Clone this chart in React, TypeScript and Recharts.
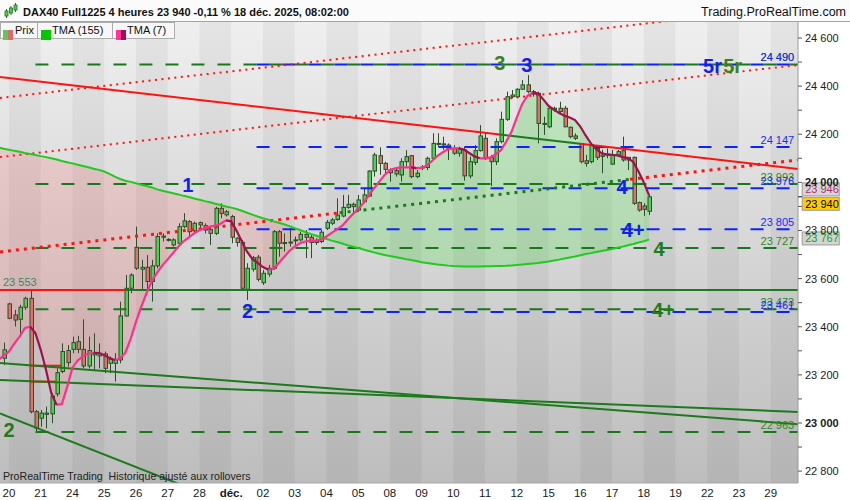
// DAX40 4h chart — ProRealTime style, rebuilt with Recharts
import React from 'react';
import {
  ComposedChart,
  Bar,
  Line,
  Area,
  XAxis,
  YAxis,
  ReferenceLine,
  ReferenceArea,
  ReferenceDot,
} from 'recharts';

// =============================================================================
// SECTION 1: DATA
// =============================================================================

const DAY_LABELS = [
  '20', '21', '24', '25', '26', '27', '28', 'déc.', '02', '03', '04', '05', '08',
  '09', '10', '11', '12', '15', '16', '17', '18', '19', '22', '23', '29',
];
const BARS_PER_DAY = 6;

const PRICE_TICKS = [
  22800, 22900, 23000, 23100, 23200, 23300, 23400, 23500, 23600, 23700,
  23800, 23900, 24000, 24100, 24200, 24300, 24400, 24500, 24600,
];

// candles, first one at slot -1 (slot 0 = first 4h bar of the 20th)
const CANDLE_FIRST_SLOT = -1;
const OPEN = [
  23269, 23495, 23449, 23431, 23481, 23518, 23047, 23020, 23036, 23038, 23121, 23214, 23301,
  23306, 23338, 23306, 23237, 23283, 23279, 23287, 23248, 23248, 23262, 23445, 23560,
  23730, 23639, 23647, 23588, 23653, 23772, 23761, 23740, 23747, 23816, 23837, 23799,
  23833, 23820, 23805, 23788, 23892, 23865, 23858, 23768, 23751, 23556, 23639, 23689,
  23583, 23619, 23643, 23795, 23750, 23750, 23758, 23761, 23784, 23772, 23750, 23754,
  23809, 23830, 23846, 23860, 23896, 23909, 23885, 23920, 23943, 24047, 24111, 24079,
  24052, 24049, 24031, 24086, 24111, 24024, 24060, 24062, 24100, 24162, 24160, 24155,
  24141, 24121, 24135, 24027, 24083, 24132, 24183, 24103, 24086, 24169, 24262, 24356,
  24356, 24387, 24405, 24377, 24370, 24245, 24231, 24301, 24308, 24308, 24229, 24193,
  24160, 24090, 24086, 24141, 24108, 24114, 24076, 24114, 24132, 24093, 24104, 23916,
  23902, 23880,
];
const HIGH = [
  23334, 23500, 23470, 23491, 23525, 23553, 23054, 23054, 23068, 23124, 23227, 23331, 23324,
  23359, 23362, 23431, 23359, 23373, 23331, 23297, 23276, 23290, 23504, 23615, 23622,
  23816, 23678, 23698, 23678, 23788, 23788, 23768, 23768, 23830, 23872, 23844, 23837,
  23837, 23830, 23816, 23899, 23913, 23885, 23865, 23772, 23761, 23664, 23694, 23698,
  23636, 23657, 23802, 23802, 23788, 23802, 23775, 23795, 23802, 23781, 23768, 23802,
  23844, 23852, 23934, 23948, 23948, 23916, 23948, 23976, 24051, 24123, 24146, 24086,
  24058, 24058, 24100, 24134, 24114, 24051, 24072, 24107, 24204, 24204, 24190, 24162,
  24155, 24148, 24148, 24107, 24155, 24238, 24204, 24114, 24183, 24294, 24377, 24384,
  24391, 24425, 24446, 24384, 24377, 24273, 24315, 24315, 24335, 24318, 24232, 24204,
  24162, 24114, 24162, 24148, 24135, 24141, 24135, 24135, 24190, 24104, 24107, 23920,
  23913, 23948,
];
const LOW = [
  23241, 23431, 23401, 23373, 23470, 23040, 22964, 22985, 22978, 22999, 23110, 23207, 23234,
  23290, 23290, 23227, 23227, 23220, 23227, 23207, 23207, 23172, 23248, 23442, 23539,
  23636, 23553, 23553, 23504, 23643, 23754, 23754, 23733, 23733, 23809, 23768, 23788,
  23809, 23788, 23740, 23781, 23851, 23858, 23747, 23733, 23553, 23511, 23629, 23588,
  23574, 23608, 23636, 23691, 23712, 23733, 23740, 23754, 23685, 23685, 23740, 23747,
  23802, 23823, 23840, 23855, 23890, 23871, 23878, 23913, 23940, 24024, 24031, 24031,
  24003, 24024, 24003, 24065, 24017, 24017, 24051, 24051, 24093, 24148, 24135, 24093,
  24114, 24107, 24007, 24017, 24072, 24128, 24093, 23985, 24072, 24162, 24255, 24349,
  24353, 24384, 24370, 24356, 24162, 24197, 24225, 24294, 24287, 24229, 24183, 24176,
  24079, 24065, 24079, 24093, 24038, 24100, 24072, 24107, 24086, 24051, 23906, 23878,
  23860, 23864,
];
const CLOSE = [
  23304, 23435, 23428, 23481, 23518, 23047, 22978, 23041, 23041, 23112, 23209, 23297, 23251,
  23334, 23306, 23237, 23301, 23290, 23290, 23227, 23265, 23262, 23445, 23560, 23615,
  23643, 23647, 23588, 23653, 23775, 23777, 23763, 23761, 23816, 23840, 23795, 23830,
  23823, 23802, 23788, 23892, 23871, 23878, 23772, 23750, 23560, 23643, 23687, 23597,
  23622, 23643, 23795, 23747, 23747, 23752, 23761, 23784, 23772, 23750, 23757, 23793,
  23834, 23844, 23864, 23896, 23909, 23899, 23927, 23948, 24047, 24114, 24079, 24054,
  24040, 24035, 24086, 24107, 24024, 24038, 24064, 24100, 24162, 24160, 24155, 24141,
  24121, 24141, 24027, 24086, 24132, 24193, 24100, 24086, 24169, 24262, 24356, 24363,
  24387, 24405, 24377, 24367, 24245, 24243, 24308, 24308, 24294, 24231, 24190, 24183,
  24086, 24079, 24155, 24104, 24114, 24117, 24114, 24128, 24093, 24104, 23913, 23885,
  23888, 23940,
];

// moving averages, first value at slot -2 (just left of the window)
const TMA_FIRST_SLOT = -2;
const TMA7 = [
  23262, 23280, 23297, 23330, 23359, 23394, 23401, 23373, 23304, 23220, 23124, 23075, 23079,
  23150, 23230, 23260, 23278, 23288, 23292, 23291, 23282, 23270, 23262, 23268, 23292,
  23350, 23420, 23483, 23540, 23590, 23625, 23655, 23680, 23706, 23733, 23755, 23771,
  23788, 23801, 23809, 23816, 23820, 23828, 23842, 23838, 23800, 23755, 23712, 23682,
  23665, 23648, 23638, 23640, 23665, 23690, 23715, 23733, 23747, 23754, 23758, 23758,
  23762, 23775, 23790, 23805, 23820, 23845, 23868, 23888, 23915, 23945, 23975, 24003,
  24031, 24051, 24058, 24062, 24062, 24062, 24059, 24060, 24070, 24090, 24110, 24125,
  24137, 24141, 24141, 24136, 24122, 24108, 24100, 24100, 24104, 24117, 24134, 24170,
  24210, 24270, 24325, 24360, 24372, 24370, 24345, 24318, 24302, 24288, 24277, 24270,
  24259, 24232, 24195, 24162, 24138, 24122, 24116, 24114, 24112, 24105, 24101, 24085,
  24045, 24000, 23946,
];
const TMA155 = [
  24145, 24140, 24136, 24131, 24127, 24122, 24118, 24114, 24109, 24105, 24100, 24095, 24089,
  24084, 24079, 24073, 24068, 24063, 24057, 24052, 24045, 24035, 24024, 24014, 24007,
  24002, 23996, 23990, 23985, 23979, 23971, 23965, 23960, 23955, 23950, 23944, 23939,
  23933, 23928, 23922, 23917, 23911, 23906, 23900, 23895, 23889, 23882, 23874, 23866,
  23858, 23851, 23845, 23838, 23832, 23826, 23818, 23810, 23802, 23794, 23786, 23779,
  23771, 23765, 23758, 23752, 23746, 23739, 23733, 23727, 23721, 23715, 23709, 23703,
  23698, 23694, 23690, 23686, 23681, 23677, 23673, 23668, 23665, 23662, 23659, 23657,
  23654, 23652, 23651, 23650, 23650, 23650, 23650, 23651, 23651, 23652, 23652, 23653,
  23655, 23657, 23659, 23661, 23663, 23665, 23668, 23671, 23675, 23679, 23684, 23688,
  23692, 23697, 23702, 23706, 23711, 23715, 23719, 23723, 23728, 23733, 23739, 23744,
  23750, 23755, 23762,
];

// horizontal levels
const GREEN_LEVELS = [24490, 23993, 23727, 23473, 22963];
const GREEN_LEVELS_FROM = 5;
const BLUE_LEVELS = [24490, 24147, 23976, 23805, 23461];
const BLUE_LEVELS_FROM = 45;
const SUPPORT = 23553;
const SUPPORT_TURN = 21.9;
const SHORT_RED_LEVELS = [
  { from: 4, to: 10, price: 23238 },
  { from: 4, to: 8.7, price: 23172 },
];

// trend lines: [slot, price] at both ends of the window
type Trend = { a: [number, number]; b: [number, number] };
const RESISTANCE: Trend = { a: [-1.7, 24438], b: [149.15, 24056] };
const RESISTANCE_CUTS = [92.8, 108];
const CHANNEL_TOP: Trend = { a: [-1.7, 24351], b: [149.15, 24733] };
const CHANNEL_MID: Trend = { a: [-1.7, 24105], b: [149.15, 24488] };
const CHANNEL_LOW: Trend = { a: [-1.7, 23711], b: [149.15, 24093] };
const CHANNEL_LOW_CUTS = [62.5, 117.4];
const FAN_LINES: Trend[] = [
  { a: [-1.7, 23249], b: [149.15, 22995] },
  { a: [-1.7, 23179], b: [149.15, 23046] },
  { a: [-1.7, 23040], b: [32.3, 22745] },
];

// wave counts
const MARKS = [
  { text: '1', slot: 33.8, price: 23989, tone: 'blue' },
  { text: '2', slot: 45.1, price: 23465, tone: 'blue' },
  { text: '2', slot: 0, price: 22969, tone: 'green' },
  { text: '3', slot: 92.8, price: 24496, tone: 'olive' },
  { text: '3', slot: 97.9, price: 24486, tone: 'blue' },
  { text: '4', slot: 115.9, price: 23979, tone: 'blue' },
  { text: '4+', slot: 118, price: 23804, tone: 'blue' },
  { text: '4', slot: 122.9, price: 23723, tone: 'green' },
  { text: '4+', slot: 123.7, price: 23470, tone: 'green' },
  { text: '5r', slot: 133, price: 24484, tone: 'blue' },
  { text: '5r', slot: 136.8, price: 24484, tone: 'olive' },
];

// =============================================================================
// SECTION 2: LAYOUT & COLOURS
// =============================================================================

const FONT = '"Liberation Sans", Arial, Helvetica, sans-serif';
const X_DOMAIN: [number, number] = [-1.7, 149.15];
const Y_DOMAIN: [number, number] = [22750.6, 24666.5];
const TAG_SLOT = 149;

const COL = {
  wick: '#2b4f2b',
  bull: '#52d052',
  bear: '#e1716b',
  tmaSlow: '#1fcb1f',
  tmaUp: '#ff2e8e',
  tmaDown: '#a0104f',
  red: '#ff1212',
  green: '#1c7a1c',
  dashGreen: '#16791a',
  blue: '#0b24ff',
  text: '#1a1a1a',
};
const TONE: Record<string, string> = { blue: '#1020f0', green: '#1d7d1d', olive: '#3a801c' };

const fmt = (v: number) => `${Math.floor(v / 1000)} ${String(v % 1000).padStart(3, '0')}`;

const priceOn = (t: Trend, slot: number) =>
  t.a[1] + ((t.b[1] - t.a[1]) * (slot - t.a[0])) / (t.b[0] - t.a[0]);

function trendPieces(t: Trend, cuts: number[], colors: string[]) {
  const xs = [t.a[0], ...cuts, t.b[0]];
  return xs.slice(0, -1).map((x0, i) => ({
    x0,
    x1: xs[i + 1],
    y0: priceOn(t, x0),
    y1: priceOn(t, xs[i + 1]),
    color: colors[i],
  }));
}

const rows = TMA7.map((t7, i) => {
  const slot = TMA_FIRST_SLOT + i;
  const ci = slot - CANDLE_FIRST_SLOT;
  const has = ci >= 0 && ci < OPEN.length;
  const t155 = TMA155[i];
  const prev = i > 0 ? TMA7[i - 1] : null;
  const next = i < TMA7.length - 1 ? TMA7[i + 1] : null;
  const outUp = next == null ? (prev == null ? true : t7 >= prev) : next >= t7;
  const inUp = prev == null ? outUp : t7 >= prev;
  return {
    slot,
    open: has ? OPEN[ci] : null,
    high: has ? HIGH[ci] : null,
    low: has ? LOW[ci] : null,
    close: has ? CLOSE[ci] : null,
    range: has ? [LOW[ci], HIGH[ci]] : null,
    tma155: t155,
    tmaUp: inUp || outUp ? t7 : null,
    tmaDown: !inUp || !outUp ? t7 : null,
    redBand: t7 < t155 ? [t7, t155] : [t155, t155],
    greenBand: t7 > t155 ? [t155, t7] : [t155, t155],
  };
});

// =============================================================================
// SECTION 3: SHAPES & TICKS
// =============================================================================

function Candle(props: any) {
  const { x, y, width, height, payload } = props;
  if (!payload || payload.open == null || !Number.isFinite(y) || !Number.isFinite(height)) return null;
  const top = Math.min(y, y + height);
  const h = Math.abs(height);
  const { open, close, high, low } = payload;
  const k = high > low ? h / (high - low) : 0;
  const yOf = (p: number) => top + (high - p) * k;
  const cx = Math.round(x + width / 2) + 0.5;
  const bTop = yOf(Math.max(open, close));
  const bBot = yOf(Math.min(open, close));
  return (
    <g>
      <line x1={cx} x2={cx} y1={top} y2={top + h} stroke={COL.wick} strokeWidth={1} />
      <rect
        x={cx - 1.5}
        y={bTop}
        width={3.5}
        height={Math.max(bBot - bTop, 1)}
        fill={close >= open ? COL.bull : COL.bear}
        stroke={COL.wick}
        strokeWidth={1}
      />
    </g>
  );
}

const dayTick = (p: any) => {
  const label = DAY_LABELS[Math.round(p.payload.value / BARS_PER_DAY)] ?? '';
  return (
    <text
      x={p.x}
      y={p.y + 12}
      textAnchor="middle"
      fontSize={11.5}
      fontFamily={FONT}
      fontWeight={label === 'déc.' ? 'bold' : 'normal'}
      fill={COL.text}
    >
      {label}
    </text>
  );
};

const priceTick = (p: any) => {
  const v = p.payload.value as number;
  if (v % 200 !== 0) return <g />;
  return (
    <text
      x={p.x}
      y={p.y + 4}
      textAnchor="start"
      fontSize={11}
      fontFamily={FONT}
      fontWeight={v % 1000 === 0 ? 'bold' : 'normal'}
      fill={COL.text}
    >
      {fmt(v)}
    </text>
  );
};

const levelTag = (text: string, color: string) => (p: any) => (
  <text
    x={p.viewBox.x - 3}
    y={p.viewBox.y - 3}
    textAnchor="end"
    fontSize={11}
    fontFamily={FONT}
    fill={color}
  >
    {text}
  </text>
);

const markTag = (text: string, color: string) => (p: any) => (
  <text
    x={p.viewBox.x}
    y={p.viewBox.y + 7}
    textAnchor="middle"
    fontSize={20}
    fontWeight="bold"
    fontFamily={FONT}
    fill={color}
  >
    {text}
  </text>
);

const priceBox = (text: string, color: string, bg: string, dy: number, tick: boolean) => (p: any) => {
  const { x, y } = p.viewBox;
  const cy = y + dy;
  return (
    <g>
      {tick && <line x1={x + 1} x2={x + 5} y1={y} y2={y} stroke="#000" strokeWidth={1} />}
      <rect x={x + 5} y={cy - 6.5} width={37} height={13} fill={bg} stroke="#9a9a9a" strokeWidth={1} />
      <text x={x + 8} y={cy + 4} fontSize={11} fontFamily={FONT} fill={color}>
        {text}
      </text>
    </g>
  );
};

// =============================================================================
// SECTION 4: CHART
// =============================================================================

function PriceChart() {
  const stripes = DAY_LABELS.map((_, i) => i).filter((i) => i % 2 === 0);
  const resistance = trendPieces(RESISTANCE, RESISTANCE_CUTS, [COL.red, COL.green, COL.red]);
  const channelLow = trendPieces(CHANNEL_LOW, CHANNEL_LOW_CUTS, [COL.red, COL.green, COL.red]);

  return (
    <ComposedChart
      width={850}
      height={500}
      data={rows}
      margin={{ top: 22, right: 0, bottom: 0, left: 0 }}
    >
      <defs>
        <linearGradient id="plotBg" x1="0" y1="0" x2="0" y2="1">
          <stop offset="0%" stopColor="#efefef" />
          <stop offset="100%" stopColor="#bdbdbd" />
        </linearGradient>
      </defs>

      <XAxis
        dataKey="slot"
        type="number"
        domain={X_DOMAIN}
        allowDataOverflow
        ticks={DAY_LABELS.map((_, i) => i * BARS_PER_DAY)}
        interval={0}
        tick={dayTick}
        tickLine={false}
        tickSize={0}
        axisLine={{ stroke: '#a8a8a8' }}
        height={17}
      />
      <YAxis
        orientation="right"
        type="number"
        domain={Y_DOMAIN}
        allowDataOverflow
        ticks={PRICE_TICKS}
        interval={0}
        tick={priceTick}
        tickSize={4}
        tickMargin={3}
        tickLine={{ stroke: '#555' }}
        axisLine={{ stroke: '#9c9c9c' }}
        width={52}
      />

      <ReferenceArea
        x1={X_DOMAIN[0]}
        x2={X_DOMAIN[1]}
        y1={Y_DOMAIN[0]}
        y2={Y_DOMAIN[1]}
        fill="url(#plotBg)"
        fillOpacity={1}
        stroke="none"
        ifOverflow="hidden"
      />
      {stripes.map((i) => (
        <ReferenceArea
          key={`st-${i}`}
          x1={i * BARS_PER_DAY}
          x2={(i + 1) * BARS_PER_DAY}
          y1={Y_DOMAIN[0]}
          y2={Y_DOMAIN[1]}
          fill="#000"
          fillOpacity={0.045}
          stroke="none"
          ifOverflow="hidden"
        />
      ))}

      <Area
        dataKey="redBand"
        type="linear"
        stroke="none"
        fill="#ff6a6a"
        fillOpacity={0.2}
        dot={false}
        activeDot={false}
        isAnimationActive={false}
      />
      <Area
        dataKey="greenBand"
        type="linear"
        stroke="none"
        fill="#3ee03e"
        fillOpacity={0.24}
        dot={false}
        activeDot={false}
        isAnimationActive={false}
      />

      {GREEN_LEVELS.map((v) => (
        <ReferenceLine
          key={`gl-${v}`}
          segment={[{ x: GREEN_LEVELS_FROM, y: v }, { x: X_DOMAIN[1], y: v }]}
          stroke={COL.dashGreen}
          strokeWidth={2}
          strokeDasharray="13 13"
          ifOverflow="hidden"
        />
      ))}
      {BLUE_LEVELS.map((v) => (
        <ReferenceLine
          key={`bl-${v}`}
          segment={[{ x: BLUE_LEVELS_FROM, y: v }, { x: X_DOMAIN[1], y: v }]}
          stroke={COL.blue}
          strokeWidth={2}
          strokeDasharray="13 13"
          strokeDashoffset={16.5}
          ifOverflow="hidden"
        />
      ))}

      <ReferenceLine
        segment={[{ x: X_DOMAIN[0], y: SUPPORT }, { x: SUPPORT_TURN, y: SUPPORT }]}
        stroke={COL.red}
        strokeWidth={2}
        ifOverflow="hidden"
      />
      <ReferenceLine
        segment={[{ x: SUPPORT_TURN, y: SUPPORT }, { x: X_DOMAIN[1], y: SUPPORT }]}
        stroke={COL.green}
        strokeWidth={2}
        ifOverflow="hidden"
      />
      {SHORT_RED_LEVELS.map((s, i) => (
        <ReferenceLine
          key={`sr-${i}`}
          segment={[{ x: s.from, y: s.price }, { x: s.to, y: s.price }]}
          stroke={COL.red}
          strokeWidth={2}
          ifOverflow="hidden"
        />
      ))}

      {FAN_LINES.map((t, i) => (
        <ReferenceLine
          key={`fan-${i}`}
          segment={[{ x: t.a[0], y: t.a[1] }, { x: t.b[0], y: t.b[1] }]}
          stroke={COL.green}
          strokeWidth={2}
          ifOverflow="hidden"
        />
      ))}
      {[CHANNEL_TOP, CHANNEL_MID].map((t, i) => (
        <ReferenceLine
          key={`ch-${i}`}
          segment={[{ x: t.a[0], y: t.a[1] }, { x: t.b[0], y: t.b[1] }]}
          stroke={COL.red}
          strokeWidth={2}
          strokeDasharray="2 4.5"
          ifOverflow="hidden"
        />
      ))}
      {channelLow.map((s, i) => (
        <ReferenceLine
          key={`cl-${i}`}
          segment={[{ x: s.x0, y: s.y0 }, { x: s.x1, y: s.y1 }]}
          stroke={s.color}
          strokeWidth={3}
          strokeDasharray="3 5"
          ifOverflow="hidden"
        />
      ))}
      {resistance.map((s, i) => (
        <ReferenceLine
          key={`rs-${i}`}
          segment={[{ x: s.x0, y: s.y0 }, { x: s.x1, y: s.y1 }]}
          stroke={s.color}
          strokeWidth={2}
          ifOverflow="hidden"
        />
      ))}

      <Line
        dataKey="tma155"
        type="linear"
        stroke={COL.tmaSlow}
        strokeWidth={2}
        dot={false}
        activeDot={false}
        isAnimationActive={false}
      />

      <Bar dataKey="range" barSize={4} shape={Candle} isAnimationActive={false} />

      <Line
        dataKey="tmaUp"
        type="linear"
        stroke={COL.tmaUp}
        strokeWidth={2.2}
        dot={false}
        activeDot={false}
        connectNulls={false}
        isAnimationActive={false}
      />
      <Line
        dataKey="tmaDown"
        type="linear"
        stroke={COL.tmaDown}
        strokeWidth={2.2}
        dot={false}
        activeDot={false}
        connectNulls={false}
        isAnimationActive={false}
      />

      {MARKS.map((m, i) => (
        <ReferenceDot
          key={`mk-${i}`}
          x={m.slot}
          y={m.price}
          r={0}
          fill="none"
          stroke="none"
          ifOverflow="visible"
          label={markTag(m.text, TONE[m.tone])}
        />
      ))}

      {GREEN_LEVELS.map((v) => (
        <ReferenceDot key={`gt-${v}`} x={TAG_SLOT} y={v} r={0} fill="none" stroke="none"
          label={levelTag(fmt(v), '#2a8a2a')} />
      ))}
      {BLUE_LEVELS.map((v) => (
        <ReferenceDot key={`bt-${v}`} x={TAG_SLOT} y={v} r={0} fill="none" stroke="none"
          label={levelTag(fmt(v), '#1a2cf5')} />
      ))}
      <ReferenceDot
        x={X_DOMAIN[0]}
        y={SUPPORT}
        r={0}
        fill="none"
        stroke="none"
        ifOverflow="visible"
        label={(p: any) => (
          <text x={p.viewBox.x + 3} y={p.viewBox.y - 4} fontSize={11} fontFamily={FONT} fill="#3a8a62">
            {fmt(SUPPORT)}
          </text>
        )}
      />

      <ReferenceDot x={TAG_SLOT} y={TMA7[TMA7.length - 1]} r={0} fill="none" stroke="none"
        label={priceBox(fmt(TMA7[TMA7.length - 1]), '#b0306a', '#d6d6d6', -6, false)} />
      <ReferenceDot x={TAG_SLOT} y={CLOSE[CLOSE.length - 1]} r={0} fill="none" stroke="none"
        label={priceBox(fmt(CLOSE[CLOSE.length - 1]), '#000', '#ffcc00', 7, true)} />
      <ReferenceDot x={TAG_SLOT} y={TMA155[TMA155.length - 1] + 5} r={0} fill="none" stroke="none"
        label={priceBox(fmt(TMA155[TMA155.length - 1] + 5), '#18a018', '#d4d4d4', 0, false)} />
    </ComposedChart>
  );
}

// =============================================================================
// SECTION 5: FRAME (title bar, legend, note)
// =============================================================================

function LegendItem({ left, width, label, swatch }: { left: number; width: number; label: string; swatch: React.ReactNode }) {
  return (
    <div
      style={{
        position: 'absolute',
        left,
        top: 22,
        width,
        height: 17,
        boxSizing: 'border-box',
        border: '1px solid #adadad',
        background: '#f7f7f7',
      }}
    >
      <div style={{ position: 'absolute', left: 2, top: 3 }}>{swatch}</div>
      <span
        style={{
          position: 'absolute',
          left: 14,
          top: 1,
          fontSize: 11,
          lineHeight: '13px',
          color: '#111',
          whiteSpace: 'nowrap',
        }}
      >
        {label}
      </span>
    </div>
  );
}

export default function App() {
  return (
    <div
      style={{
        position: 'absolute',
        left: 0,
        top: 0,
        width: 850,
        height: 500,
        background: '#fff',
        overflow: 'hidden',
        fontFamily: FONT,
      }}
    >
      <div style={{ position: 'absolute', left: 0, top: 0 }}>
        <PriceChart />
      </div>

      <div
        style={{
          position: 'absolute',
          left: 0,
          top: 0,
          width: 850,
          height: 22,
          boxSizing: 'border-box',
          background: '#fbfbfb',
          borderBottom: '1px solid #a4a4a4',
        }}
      >
        <svg width={14} height={16} style={{ position: 'absolute', left: 4, top: 3 }}>
          <line x1={2.5} x2={2.5} y1={6} y2={15} stroke="#2b6b2b" />
          <rect x={1} y={8} width={3} height={5} fill="#4fcf4f" stroke="#2b6b2b" strokeWidth={0.8} />
          <line x1={7} x2={7} y1={3} y2={12} stroke="#2b6b2b" />
          <rect x={5.5} y={5} width={3} height={5} fill="#4fcf4f" stroke="#2b6b2b" strokeWidth={0.8} />
          <line x1={11.5} x2={11.5} y1={0} y2={9} stroke="#2b6b2b" />
          <rect x={10} y={2} width={3} height={5} fill="#4fcf4f" stroke="#2b6b2b" strokeWidth={0.8} />
        </svg>
        <span
          style={{
            position: 'absolute',
            left: 23,
            top: 6,
            fontSize: 11,
            lineHeight: '13px',
            fontWeight: 'bold',
            color: '#111',
            whiteSpace: 'nowrap',
          }}
        >
          DAX40 Full1225 4 heures 23 940 -0,11 % 18 déc. 2025, 08:02:00
        </span>
        <span
          style={{
            position: 'absolute',
            right: 4,
            top: 5,
            fontSize: 12.5,
            lineHeight: '14px',
            color: '#111',
            whiteSpace: 'nowrap',
          }}
        >
          Trading.ProRealTime.com
        </span>
      </div>

      <LegendItem
        left={0}
        width={38}
        label="Prix"
        swatch={
          <svg width={11} height={10}>
            <rect x={0} y={0} width={5} height={10} fill="#5cc85c" />
            <rect x={5} y={0} width={5} height={10} fill="#e06a66" />
          </svg>
        }
      />
      <LegendItem
        left={37}
        width={76}
        label="TMA (155)"
        swatch={
          <svg width={11} height={10}>
            <rect x={1} y={0} width={10} height={10} fill="#00c800" />
          </svg>
        }
      />
      <LegendItem
        left={112}
        width={63}
        label="TMA (7)"
        swatch={
          <svg width={11} height={10}>
            <rect x={1} y={0} width={5} height={10} fill="#ff3399" />
            <rect x={6} y={0} width={5} height={10} fill="#a0105a" />
          </svg>
        }
      />

      <div
        style={{
          position: 'absolute',
          left: 3,
          top: 470,
          fontSize: 10.6,
          lineHeight: '13px',
          color: '#1e1e1e',
          whiteSpace: 'pre',
        }}
      >
        {'ProRealTime Trading  Historique ajusté aux rollovers'}
      </div>
    </div>
  );
}
